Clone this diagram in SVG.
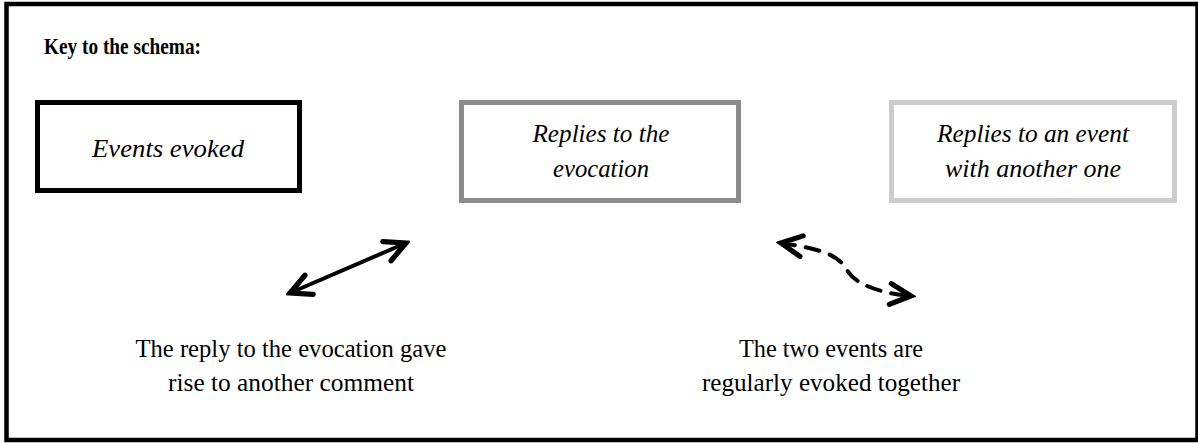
<svg xmlns="http://www.w3.org/2000/svg" width="1198" height="443" viewBox="0 0 1198 443">
  <style>
    text { font-family: "Liberation Serif", "DejaVu Serif", serif; fill: #000; }
    .title { font-size: 24px; font-weight: bold; }
    .key { font-size: 25px; font-style: italic; text-anchor: middle; }
    .note { font-size: 26px; text-anchor: middle; }
    .box { fill: #fff; stroke-width: 5; }
    .conn { fill: none; stroke: #000; stroke-width: 4; stroke-linecap: round; }
  </style>
  <defs>
    <marker id="chev" markerUnits="userSpaceOnUse" markerWidth="30" markerHeight="30" viewBox="-22 -12 26 24" refX="0" refY="0" orient="auto-start-reverse">
      <path d="M-18,-9 L0,0 L-18,9" fill="none" stroke="#000" stroke-width="4.5" stroke-linecap="round" stroke-linejoin="miter"/>
    </marker>
  </defs>

  <!-- frame -->
  <rect x="6.5" y="4" width="1191" height="436" fill="#fff" stroke="#000" stroke-width="4.5"/>

  <text class="title" x="44" y="54" textLength="157" lengthAdjust="spacingAndGlyphs">Key to the schema:</text>

  <g id="events-evoked">
    <rect class="box" x="37.5" y="102.5" width="262" height="88" stroke="#000"/>
    <text class="key" x="168" y="157" textLength="152" lengthAdjust="spacingAndGlyphs">Events evoked</text>
  </g>

  <g id="replies-evocation">
    <rect class="box" x="461.5" y="102.5" width="277" height="98" stroke="#8c8c8c"/>
    <text class="key" x="601" y="142" textLength="137" lengthAdjust="spacingAndGlyphs">Replies to the</text>
    <text class="key" x="601" y="177" textLength="96" lengthAdjust="spacingAndGlyphs">evocation</text>
  </g>

  <g id="replies-event">
    <rect class="box" x="891.5" y="102.5" width="283" height="98" stroke="#cccccc"/>
    <text class="key" x="1033" y="142" textLength="192" lengthAdjust="spacingAndGlyphs">Replies to an event</text>
    <text class="key" x="1033" y="177" textLength="176" lengthAdjust="spacingAndGlyphs">with another one</text>
  </g>

  <g id="connectors">
    <line class="conn" x1="290" y1="293" x2="406" y2="243" marker-start="url(#chev)" marker-end="url(#chev)"/>
    <path class="conn" d="M781,243 C820,249 838,254 847,270 C856,285 880,293 911,296" stroke-dasharray="14 11" marker-start="url(#chev)" marker-end="url(#chev)"/>
  </g>

  <g id="note-reply">
    <text class="note" x="291" y="357" textLength="311" lengthAdjust="spacingAndGlyphs">The reply to the evocation gave</text>
    <text class="note" x="291" y="391" textLength="246" lengthAdjust="spacingAndGlyphs">rise to another comment</text>
  </g>

  <g id="note-together">
    <text class="note" x="831" y="357" textLength="184" lengthAdjust="spacingAndGlyphs">The two events are</text>
    <text class="note" x="831" y="391" textLength="258" lengthAdjust="spacingAndGlyphs">regularly evoked together</text>
  </g>
</svg>
